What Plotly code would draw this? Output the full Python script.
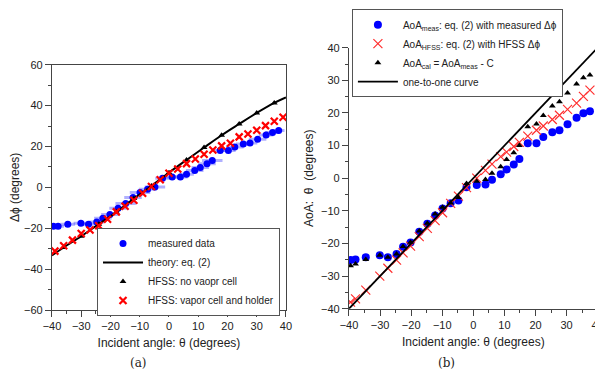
import plotly.graph_objects as go

# ---------------- Panel (a) data ----------------
meas_x = [-39.5, -37.9, -34.6, -30.1, -27.5, -24.7, -22.6, -20.2, -17.4, -14.8, -12.3, -9.9, -7.3, -4.8, -2.2,
          1.1, 3.9, 6.0, 8.8, 10.7, 13.0, 14.8, 17.5, 20.3, 22.5, 25.4, 27.7, 30.3, 33.2, 35.4, 37.5]
meas_dphi = [-19.0, -19.0, -18.0, -17.5, -18.0, -17.0, -15.1, -13.3, -10.2, -7.9, -5.0, -2.5, -0.9, 0.2, 4.5,
             5.1, 5.1, 6.4, 8.2, 9.7, 11.5, 13.1, 18.0, 18.0, 19.8, 21.2, 21.7, 23.5, 25.6, 26.8, 27.8]
meas_err = [2.5, 2.0, 2.5, 2.5, 2.0, 2.5, 3.0, 3.0, 3.0, 3.5, 3.0, 3.5, 3.0, 3.5, 2.5,
            2.0, 2.5, 2.5, 3.0, 3.0, 3.0, 3.5, 2.5, 2.5, 3.0, 2.5, 2.5, 3.0, 2.5, 2.5, 2.0]

theory_x = [-40, -36, -30, -24, -18, -12, -6, 0, 6, 12, 18, 24, 30, 36, 40]
theory_dphi = [-33.3, -29.4, -23.9, -18.0, -12.1, -5.5, 0.7, 7.2, 13.4, 19.5, 25.5, 31.0, 36.4, 41.3, 44.0]

hfss_nocell_x = [-36, -30, -24, -18, -12, -6, 0, 6, 12, 18, 24, 30, 36]
hfss_nocell_dphi = [-29.4, -23.9, -18.0, -12.1, -5.5, 0.7, 7.2, 13.4, 19.5, 25.5, 31.0, 36.4, 41.3]

hfss_cell_x = [-39, -36, -33, -30, -27, -24, -21, -18, -15, -12, -9, -6, -3, 0, 3, 6, 9, 12, 15,
               18, 21, 24, 27, 30, 33, 36, 39]
hfss_cell_dphi = [-31.2, -28.6, -25.8, -22.6, -20.9, -18.8, -15.6, -12.0, -9.2, -6.3, -2.9, 0.4, 3.7, 6.9,
                  9.0, 11.6, 13.9, 16.2, 18.3, 20.3, 21.6, 24.7, 26.1, 27.9, 30.2, 32.3, 34.3]

# ---------------- Panel (b) data ----------------
aoa_meas = [-25.1, -24.9, -24.2, -23.6, -24.2, -23.2, -21.0, -19.7, -16.4, -14.0, -11.4, -9.3, -7.7, -6.8, -2.8,
            -2.1, -1.9, -0.5, 1.2, 2.7, 4.2, 5.9, 10.7, 10.7, 12.6, 14.1, 14.7, 16.5, 18.5, 19.9, 20.5]
aoa_hfss = [-38.0, -37.0, -34.3, -30.0, -27.6, -25.1, -22.9, -20.8, -17.9, -15.4, -13.0, -10.6, -7.7, -5.5, -2.9,
            0.0, 2.4, 4.3, 6.6, 8.0, 9.7, 11.0, 12.9, 14.7, 16.0, 18.0, 19.3, 21.1, 23.0, 25.1, 27.0]
aoa_cal = [-26.8, -26.3, -24.9, -23.6, -24.2, -23.2, -20.9, -19.6, -16.2, -13.8, -11.0, -8.9, -7.6, -5.9, -1.6,
           -0.9, -0.4, 1.5, 3.5, 5.7, 7.8, 10.0, 15.8, 16.6, 19.2, 22.1, 23.4, 26.1, 28.9, 30.8, 31.6]
one_to_one = [-40, 40]

FONT = "Arial, Liberation Sans, sans-serif"

fig = go.Figure()

# Panel (a)
fig.add_trace(go.Scatter(
    x=meas_x, y=meas_dphi, mode="markers", name="measured data",
    marker=dict(color="#0000ff", size=7, symbol="circle"),
    error_x=dict(type="data", array=meas_err, color="rgba(80,80,255,0.45)", thickness=3, width=0),
    xaxis="x", yaxis="y", legend="legend"))
fig.add_trace(go.Scatter(
    x=theory_x, y=theory_dphi, mode="lines", name="theory: eq. (2)",
    line=dict(color="black", width=2, shape="spline"),
    xaxis="x", yaxis="y", legend="legend"))
fig.add_trace(go.Scatter(
    x=hfss_nocell_x, y=hfss_nocell_dphi, mode="markers", name="HFSS: no vaopr cell",
    marker=dict(color="black", size=6, symbol="triangle-up"),
    xaxis="x", yaxis="y", legend="legend"))
fig.add_trace(go.Scatter(
    x=hfss_cell_x, y=hfss_cell_dphi, mode="markers", name="HFSS: vapor cell and holder",
    marker=dict(color="#ff0000", size=7, symbol="x-thin", line=dict(color="#ff0000", width=2.2)),
    xaxis="x", yaxis="y", legend="legend"))

# Panel (b)
fig.add_trace(go.Scatter(
    x=meas_x, y=aoa_meas, mode="markers", name="AoA<sub>meas</sub>: eq. (2) with measured Δϕ",
    marker=dict(color="#0000ff", size=8, symbol="circle"),
    xaxis="x2", yaxis="y2", legend="legend2"))
fig.add_trace(go.Scatter(
    x=meas_x, y=aoa_hfss, mode="markers", name="AoA<sub>HFSS</sub>: eq. (2) with HFSS Δϕ",
    marker=dict(color="#ff3030", size=9, symbol="x-thin", line=dict(color="#ff3030", width=1.2)),
    xaxis="x2", yaxis="y2", legend="legend2"))
fig.add_trace(go.Scatter(
    x=meas_x, y=aoa_cal, mode="markers", name="AoA<sub>cal</sub> = AoA<sub>meas</sub> - C",
    marker=dict(color="black", size=6, symbol="triangle-up"),
    xaxis="x2", yaxis="y2", legend="legend2"))
fig.add_trace(go.Scatter(
    x=one_to_one, y=one_to_one, mode="lines", name="one-to-one curve",
    line=dict(color="black", width=1.8),
    xaxis="x2", yaxis="y2", legend="legend2"))

axis_common = dict(
    showline=True, linecolor="#444", linewidth=1.2, ticks="outside", ticklen=6, tickcolor="#444",
    showgrid=False, zeroline=False, automargin=False, ticklabeloverflow="allow",
    tickfont=dict(family=FONT, size=11, color="#222"),
)

# The page body adds an 8 px offset; the figure is sized so that it fits the 603x385 window.
W, H = 595, 377

fig.update_layout(
    width=W, height=H,
    margin=dict(l=0, r=0, t=0, b=0),
    paper_bgcolor="white", plot_bgcolor="white",
    font=dict(family=FONT, size=11, color="#222"),
    showlegend=True,
    xaxis=dict(domain=[0.0739, 0.4672], range=[-40, 40], dtick=10, anchor="y", mirror=True,
               minor=dict(ticks="outside", dtick=5, ticklen=3, tickcolor="#444"),
               title=dict(text="Incident angle: θ (degrees)", font=dict(size=12), standoff=7),
               **axis_common),
    yaxis=dict(domain=[0.1989, 0.8496], range=[-60, 60], dtick=20, anchor="x", mirror=True,
               minor=dict(ticks="outside", dtick=10, ticklen=3, tickcolor="#444"),
               title=dict(text="Δϕ (degrees)", font=dict(size=12), standoff=5),
               **axis_common),
    xaxis2=dict(domain=[0.5731, 0.9911], range=[-40, 40], dtick=10, anchor="y2",
                minor=dict(ticks="outside", dtick=5, ticklen=3, tickcolor="#444"),
                title=dict(text="Incident angle: θ (degrees)", font=dict(size=12), standoff=7),
                **axis_common),
    yaxis2=dict(domain=[0.2024, 0.8947], range=[-40, 40], dtick=10, anchor="x2",
                minor=dict(ticks="outside", dtick=5, ticklen=3, tickcolor="#444"),
                title=dict(text="AoA:  θ  (degrees)", font=dict(size=12), standoff=4),
                **axis_common),
    legend=dict(x=0.1496, y=0.4165, xanchor="left", yanchor="top",
                bgcolor="white", bordercolor="#555", borderwidth=1,
                font=dict(family=FONT, size=10), itemwidth=40, tracegroupgap=0),
    legend2=dict(x=0.578, y=0.997, xanchor="left", yanchor="top",
                 bgcolor="white", bordercolor="#555", borderwidth=1,
                 font=dict(family=FONT, size=10), itemwidth=40, tracegroupgap=0),
)

fig.add_annotation(text="(a)", x=0.2017, y=0.0345, xref="paper", yref="paper", showarrow=False,
                   font=dict(family="DejaVu Serif, Liberation Serif, serif", size=12, color="#222"))
fig.add_annotation(text="(b)", x=0.7546, y=0.0345, xref="paper", yref="paper", showarrow=False,
                   font=dict(family="DejaVu Serif, Liberation Serif, serif", size=12, color="#222"))

fig.write_html("out.html")
